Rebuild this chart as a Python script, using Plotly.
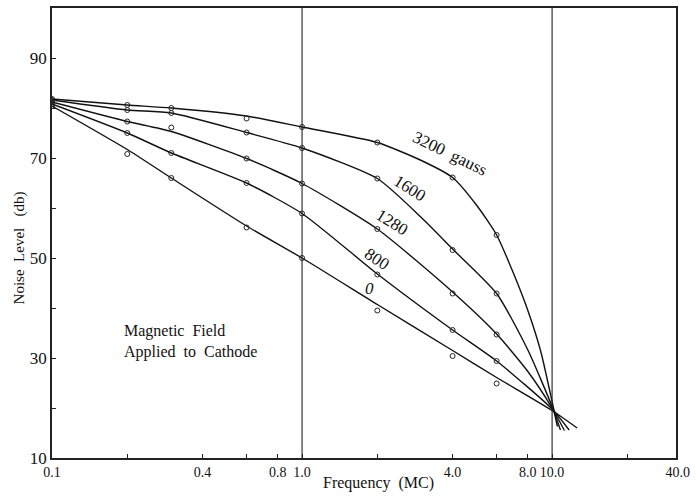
import numpy as np
import plotly.graph_objects as go

# ---------------- data ----------------
series_names = ["3200\u00a0\u00a0gauss", "1600", "1280", "800", "<i>0</i>"]

# measured points (open circles)
point_freq = [0.1, 0.2, 0.3, 0.6, 1.0, 2.0, 4.0, 6.0]
points_3200 = [81.8, 80.6, 80.0, 77.9, 76.2, 73.1, 66.1, 54.6]
points_1600 = [81.6, 79.6, 79.0, 75.1, 72.0, 65.9, 51.6, 42.9]
points_1280 = [81.2, 77.3, 76.1, 69.9, 64.9, 55.8, 42.9, 34.7]
points_800 = [80.8, 75.0, 71.0, 65.0, 58.9, 46.7, 35.6, 29.4]
points_0 = [80.4, 70.8, 66.0, 56.1, 50.0, 39.5, 30.4, 24.9]

# drawn curves
curve_3200_x = [0.1, 0.2, 0.3, 0.6, 1.0, 2.0, 3.0, 4.0, 5.0, 6.0, 7.0, 8.0, 9.0, 10.0, 10.5]
curve_3200_y = [81.8, 80.6, 80.0, 78.4, 76.2, 73.1, 69.5, 66.1, 60.5, 54.6, 47.0, 39.5, 31.4, 21.3, 16.3]
curve_1600_x = [0.1, 0.2, 0.3, 0.6, 1.0, 2.0, 3.0, 4.0, 6.0, 8.0, 10.0, 10.8]
curve_1600_y = [81.6, 79.6, 79.0, 75.1, 72.0, 65.9, 58.1, 51.8, 42.9, 31.6, 20.3, 15.6]
curve_1280_x = [0.1, 0.2, 0.3, 0.6, 1.0, 2.0, 4.0, 6.0, 8.0, 10.0, 11.2]
curve_1280_y = [81.2, 77.3, 75.3, 69.9, 64.9, 55.8, 43.2, 34.8, 27.3, 20.0, 15.5]
curve_800_x = [0.1, 0.2, 0.3, 0.6, 1.0, 2.0, 4.0, 6.0, 10.0, 11.7]
curve_800_y = [80.8, 75.0, 71.0, 65.0, 58.9, 46.8, 35.6, 29.4, 19.8, 15.6]
curve_0_x = [0.1, 0.2, 0.3, 0.6, 1.0, 2.0, 4.0, 6.0, 10.0, 12.6]
curve_0_y = [80.4, 71.7, 66.0, 56.4, 50.0, 40.7, 31.5, 26.1, 19.5, 16.0]

# curve label positions (frequency, level) and angles
label_freq = [3.9, 2.71, 2.30, 2.0, 1.86]
label_level = [71.0, 64.0, 57.1, 49.7, 43.9]
label_angle = [26, 32, 32, 33, 0]

# axis ticks
x_tickvals = [0.1, 0.2, 0.4, 0.6, 0.8, 1.0, 2.0, 4.0, 6.0, 8.0, 10.0, 20.0, 31.3]
x_ticktext = ["0.1", "", "0.4", "", "0.8", "1.0", "", "4.0", "", "8.0",
              "10.0", "", "\u00a040.0"]
x_range_max = 31.3
y_tickvals = [10, 20, 30, 40, 50, 60, 70, 80, 90]
y_ticktext = ["10", "", "30", "", "50", "", "70", "", "90"]
guide_freqs = [1.0, 10.0]

FONT = "Liberation Serif, Times New Roman, serif"

fig = go.Figure()

curves = [
    (curve_3200_x, curve_3200_y),
    (curve_1600_x, curve_1600_y),
    (curve_1280_x, curve_1280_y),
    (curve_800_x, curve_800_y),
    (curve_0_x, curve_0_y),
]
points = [points_3200, points_1600, points_1280, points_800, points_0]

for name, (cx, cy), py in zip(series_names, curves, points):
    fig.add_trace(go.Scatter(
        x=cx, y=cy, mode="lines", name=name,
        line=dict(color="#111111", width=1.4, shape="spline", smoothing=0.6),
        showlegend=False, hoverinfo="skip"))
    fig.add_trace(go.Scatter(
        x=point_freq, y=py, mode="markers", name=name + " measured",
        marker=dict(symbol="circle-open", size=5, color="#222222", line=dict(width=1)),
        showlegend=False))

# vertical guide lines at 1.0 and 10.0 MC
for gf in guide_freqs:
    fig.add_shape(type="line", xref="x", yref="paper", x0=gf, x1=gf, y0=0, y1=1,
                  line=dict(color="#222222", width=1.1))

# curve labels
for txt, lf, ll, ang in zip(series_names, label_freq, label_level, label_angle):
    fig.add_annotation(x=np.log10(lf), y=ll, text=txt, showarrow=False,
                       xanchor="center", yanchor="middle",
                       textangle=ang, font=dict(family=FONT, size=17, color="#111111"))

fig.add_annotation(x=np.log10(0.19), y=33.4, xanchor="left", yanchor="middle",
                   text="Magnetic\u00a0\u00a0Field<br>Applied\u00a0\u00a0to\u00a0\u00a0Cathode",
                   showarrow=False, align="left",
                   font=dict(family=FONT, size=16, color="#111111"))

fig.add_annotation(xref="paper", yref="paper", x=0.524, y=-0.055,
                   xanchor="center", yanchor="middle",
                   text="Frequency\u00a0\u00a0(MC)", showarrow=False,
                   font=dict(family=FONT, size=16, color="#111111"))
fig.add_annotation(xref="paper", yref="paper", x=-0.052, y=0.467, textangle=-90,
                   xanchor="center", yanchor="middle",
                   text="Noise\u00a0\u00a0Level\u00a0\u00a0\u00a0(db)", showarrow=False,
                   font=dict(family=FONT, size=15, color="#111111"))

fig.update_xaxes(
    type="log", range=[np.log10(0.1), np.log10(x_range_max)],
    tickmode="array", tickvals=x_tickvals, ticktext=x_ticktext, tickangle=0,
    ticks="inside", ticklen=4, tickcolor="#222222",
    showline=True, linecolor="#222222", linewidth=1.5, mirror=True,
    showgrid=False, zeroline=False,
    tickfont=dict(family=FONT, size=14, color="#111111"))
fig.update_yaxes(
    range=[10, 100],
    tickmode="array", tickvals=y_tickvals, ticktext=y_ticktext,
    ticks="inside", ticklen=4, tickcolor="#222222",
    showline=True, linecolor="#222222", linewidth=1.5, mirror=True,
    showgrid=False, zeroline=False,
    tickfont=dict(family=FONT, size=17, color="#111111"))

fig.update_layout(
    width=696, height=496,
    margin=dict(l=52, r=16, t=6, b=38),
    paper_bgcolor="white", plot_bgcolor="white",
    showlegend=False,
)

fig.write_html("out.html", config={"displayModeBar": False},
               post_script="document.body.style.margin='0';")
